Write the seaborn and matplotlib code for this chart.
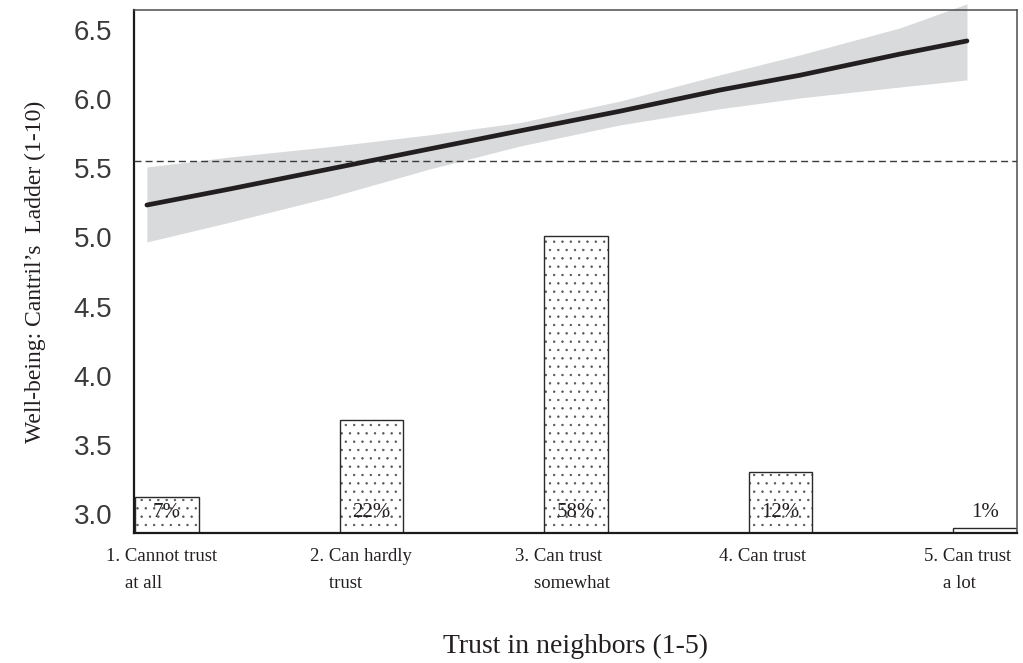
import numpy as np
import pandas as pd
import matplotlib
matplotlib.use("Agg")
import matplotlib.pyplot as plt
import matplotlib.transforms as mtransforms
import seaborn as sns

# ---------------- data ----------------
categories = [1, 2, 3, 4, 5]
category_labels = ["1. Cannot trust\n    at all", "2. Can hardly\n    trust",
                   "3. Can trust\n    somewhat", "4. Can trust", "5. Can trust\n    a lot"]
shares_pct = [7, 22, 58, 12, 1]

trend_x = [0.902, 1.308, 1.797, 2.286, 2.726, 3.215, 3.704, 4.095, 4.584, 4.912]
trend_y = [5.234, 5.350, 5.495, 5.640, 5.770, 5.912, 6.065, 6.172, 6.325, 6.420]
ci_upper = [5.509, 5.581, 5.656, 5.742, 5.830, 5.985, 6.175, 6.319, 6.514, 6.688]
ci_lower = [4.967, 5.110, 5.290, 5.495, 5.660, 5.813, 5.930, 6.008, 6.087, 6.138]
mean_wellbeing = 5.554

y_ticks = [3.0, 3.5, 4.0, 4.5, 5.0, 5.5, 6.0, 6.5]

# ---------------- style ----------------
sns.set_style("white")
plt.rcParams["font.family"] = ["Liberation Serif", "DejaVu Serif"]
plt.rcParams["hatch.linewidth"] = 0.5

serif = ["Liberation Serif", "DejaVu Serif"]
sans = ["Liberation Sans", "DejaVu Sans"]
ink = "#231f20"

fig = plt.figure(figsize=(10.23, 6.63), dpi=100)
ax = fig.add_axes([0.131, 0.196, 0.863, 0.789])

ymin, ymax = 2.863, 6.644
bar_scale = 0.037   # data units per percentage point
bar_width = 0.31

df_bars = pd.DataFrame({"cat": categories, "pct": shares_pct})
df_bars["height"] = df_bars["pct"] * bar_scale

# dotted fill
ax.bar(df_bars["cat"], df_bars["height"], bottom=ymin, width=bar_width,
       color="white", edgecolor="#555555", linewidth=0, hatch="..", zorder=2)
# outline
ax.bar(df_bars["cat"], df_bars["height"], bottom=ymin, width=bar_width,
       fill=False, edgecolor="#2a2a2a", linewidth=1.0, zorder=2.5)

for c, p in zip(df_bars["cat"], df_bars["pct"]):
    ax.text(c, 3.01, f"{p}%", ha="center", va="center", fontsize=15,
            family=serif, color=ink, zorder=5)

# confidence band and trend line
ax.fill_between(trend_x, ci_lower, ci_upper, color="#d9dadb", linewidth=0,
                zorder=1, clip_on=False)
df_line = pd.DataFrame({"x": trend_x, "y": trend_y})
sns.lineplot(data=df_line, x="x", y="y", ax=ax, color=ink, linewidth=3.4,
             zorder=4, solid_capstyle="round")

ax.axhline(mean_wellbeing, color="#3a3a3a", linewidth=1.0,
           dashes=(5.0, 3.0), zorder=3)

ax.set_xlim(0.839, 5.156)
ax.set_ylim(ymin, ymax)

ax.tick_params(axis="both", direction="out", length=8.6, width=1.0,
               color="#333333")
ax.tick_params(axis="x", pad=2)
ax.tick_params(axis="y", pad=7)

ax.set_yticks(y_ticks)
ax.set_yticklabels([f"{v:.1f}" for v in y_ticks], family=sans, fontsize=20,
                   color="#3a3a3a")
ax.set_xticks(categories)
ax.set_xticklabels(category_labels, family=serif, fontsize=13.5, color=ink,
                   ha="left", multialignment="left", linespacing=1.75)

for side in ["left", "bottom"]:
    ax.spines[side].set_color("#1a1a1a")
    ax.spines[side].set_linewidth(1.6)
for side in ["top", "right"]:
    ax.spines[side].set_color("#4d4d4d")
    ax.spines[side].set_linewidth(1.1)
    ax.spines[side].set_visible(True)

ax.set_xlabel("Trust in neighbors (1-5)", family=serif, fontsize=20, color=ink)
ax.set_ylabel("Well-being: Cantril\u2019s  Ladder (1-10)", family=serif,
              fontsize=17, color=ink)
ax.xaxis.set_label_coords(0.5, -0.193)
ax.yaxis.set_label_coords(-0.112, 0.5)
ax.yaxis.label.set_va("center")

offset = mtransforms.ScaledTranslation(-61 / 100, 0, fig.dpi_scale_trans)
for lab in ax.xaxis.get_majorticklabels():
    lab.set_transform(lab.get_transform() + offset)

fig.savefig("out.png", dpi=100)
